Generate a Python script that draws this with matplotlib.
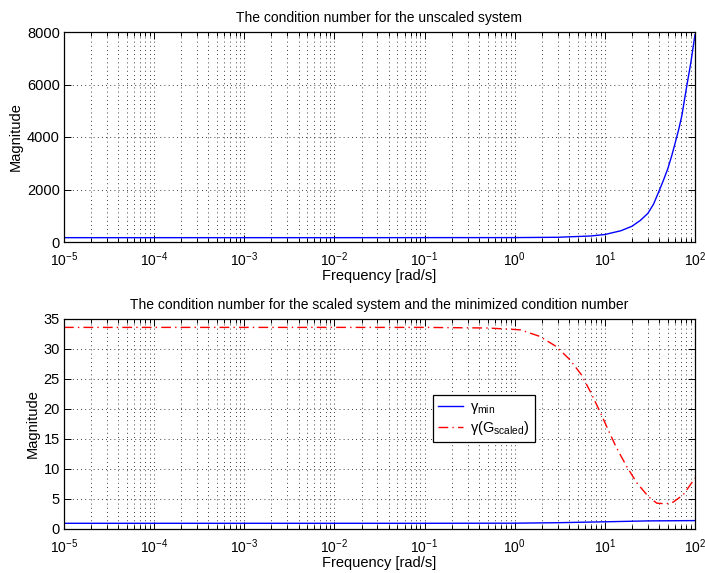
import numpy as np
import matplotlib
matplotlib.use("Agg")
import matplotlib.pyplot as plt
from matplotlib.ticker import LogLocator, FixedLocator, NullFormatter, FuncFormatter

plt.rcParams['font.family'] = ['Liberation Sans', 'DejaVu Sans']
plt.rcParams['mathtext.fontset'] = 'custom'
plt.rcParams['mathtext.rm'] = 'Liberation Sans'
plt.rcParams['mathtext.it'] = 'Liberation Sans:italic'
plt.rcParams['mathtext.bf'] = 'Liberation Sans:bold'

# ---- data ----
f_unscaled = [1e-5, 1e-2, 1, 3, 6.9, 10, 15.1, 20, 24.7, 30, 34.7, 40, 44.7, 50, 55.4, 60,
              65.6, 71.5, 80, 90, 100]
cond_unscaled = [165, 165, 168, 180, 228, 285, 430, 600, 820, 1090, 1444, 1950, 2356, 2800, 3306, 3750,
                 4256, 4815, 5830, 6844, 7900]

f_scaled = [1e-5, 1e-2, 0.1, 0.5, 1.15, 1.9, 2.9, 4.1, 5.5, 6.9, 8.8, 10.9, 13.5, 17.5, 22.6,
            30.4, 37.7, 48.6, 57.6, 74, 92, 100]
cond_scaled = [33.6, 33.6, 33.6, 33.5, 33.2, 32.1, 30.4, 28.2, 25.7, 22.9, 19.6, 16.5, 13.5, 10.4, 7.7,
               5.4, 4.3, 4.2, 4.5, 5.7, 7.7, 8.5]

f_min = [1e-5, 1e-1, 1, 3, 10, 30, 100]
gamma_min = [0.95, 0.95, 0.97, 1.05, 1.2, 1.35, 1.4]

top_yticks = [0, 2000, 4000, 6000, 8000]
bot_yticks = [0, 5, 10, 15, 20, 25, 30, 35]
xdecades = [1e-5, 1e-4, 1e-3, 1e-2, 1e-1, 1e0, 1e1, 1e2]

title_top = "The condition number for the unscaled system"
title_bot = "The condition number for the scaled system and the minimized condition number"
xlabel = "Frequency [rad/s]"
ylabel = "Magnitude"
legend_labels = ["γ$_{\\mathrm{min}}$", "γ(G$_{\\mathrm{scaled}}$)"]

W, H = 705, 573
fig = plt.figure(figsize=(W / 100, H / 100), dpi=100)

def px_axes(l, r, t, b):
    return fig.add_axes([l / W, 1 - b / H, (r - l) / W, (b - t) / H])

ax1 = px_axes(64, 695, 32, 242)
ax2 = px_axes(64, 695, 319, 529)

def fmt_pow(x, pos):
    e = int(round(np.log10(x)))
    return r'$10^{%d}$' % e

def style(ax, yticks, ylim):
    ax.set_xscale('log')
    ax.set_xlim(1e-5, 1e2)
    ax.set_ylim(*ylim)
    ax.xaxis.set_major_locator(FixedLocator(xdecades))
    ax.xaxis.set_minor_locator(LogLocator(base=10, subs=np.arange(2, 10), numticks=20))
    ax.xaxis.set_minor_formatter(NullFormatter())
    ax.xaxis.set_major_formatter(FuncFormatter(fmt_pow))
    ax.set_yticks(yticks)
    ax.grid(True, which='major', linestyle=(0, (1, 4)), color='black', linewidth=0.6)
    ax.grid(True, which='minor', axis='x', linestyle=(0, (1, 4)), color='black', linewidth=0.6)
    ax.tick_params(which='both', direction='in', top=True, right=True, labelsize=10.5, width=0.7)
    ax.tick_params(axis='x', which='major', labelsize=10)
    ax.tick_params(which='major', length=5)
    ax.tick_params(which='minor', length=3)
    ax.tick_params(axis='x', which='major', pad=6)
    ax.tick_params(axis='y', which='major', pad=3)
    for s in ax.spines.values():
        s.set_linewidth(0.9)
    ax.set_xlabel(xlabel, fontsize=10.5, labelpad=0)
    ax.set_ylabel(ylabel, fontsize=10.5, labelpad=3)

ax1.plot(f_unscaled, cond_unscaled, color='blue', linewidth=1.0)
style(ax1, top_yticks, (0, 8000))
ax1.set_title(title_top, fontsize=10, pad=7)

ax2.plot(f_min, gamma_min, color='blue', linewidth=1.0, label=legend_labels[0])
ax2.plot(f_scaled, cond_scaled, color='red', linewidth=1.0, linestyle=(0, (7, 3, 1, 3)),
         label=legend_labels[1])
style(ax2, bot_yticks, (0, 35))
ax2.set_title(title_bot, fontsize=10, pad=7)
leg = ax2.legend(loc='upper left', bbox_to_anchor=(0.585, 0.64), borderaxespad=0, fontsize=10.5,
                 frameon=True, fancybox=False, edgecolor='black', framealpha=1,
                 borderpad=0.35, handlelength=1.7, handletextpad=0.5, labelspacing=0.25)
leg.get_frame().set_linewidth(0.9)

fig.savefig("out.png", dpi=100)
